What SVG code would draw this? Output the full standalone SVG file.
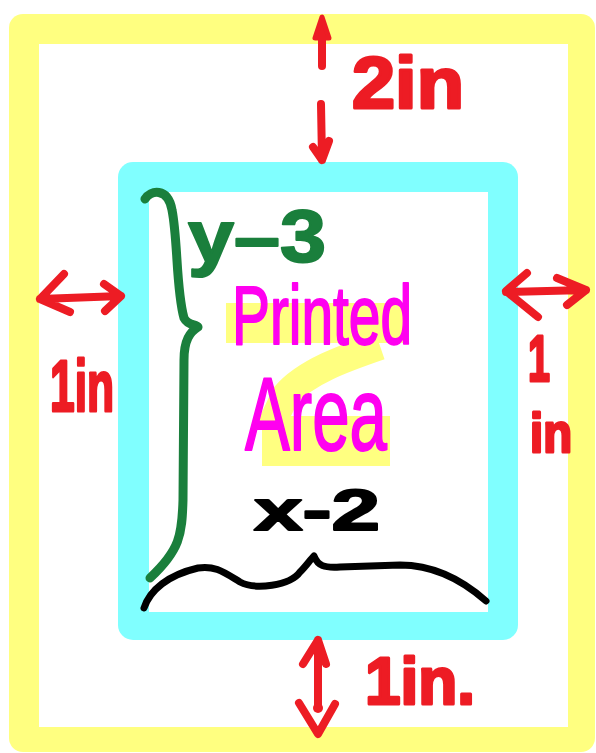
<svg xmlns="http://www.w3.org/2000/svg" width="596" height="753" viewBox="0 0 596 753">
<style>
.red{stroke:#ed1c24;fill:none;stroke-width:8;stroke-linecap:round;stroke-linejoin:round}
.redt{fill:#ed1c24;stroke:#ed1c24;stroke-width:3;stroke-linejoin:round;font-family:"Liberation Sans",Arial,sans-serif;font-weight:bold}
.hl{fill:#ffff80}
.pink{fill:#ff00f0;stroke:#ff00f0;stroke-width:2;stroke-linejoin:round;font-family:"Liberation Sans",Arial,sans-serif}
</style>
<rect width="596" height="753" fill="#ffffff"/>
<g id="page">
<rect x="9" y="14" width="586" height="738" rx="14" fill="#ffff80"/>
<rect x="39" y="44" width="529" height="683" fill="#ffffff"/>
</g>
<g id="printed-frame">
<rect x="118" y="162" width="400" height="478" rx="15" fill="#80ffff"/>
<rect x="149" y="192" width="339" height="420" fill="#ffffff"/>
</g>
<g id="connectors">
<path class="red" d="M322 24 L322 66"/>
<path d="M322 17 L315 38 L329 38 Z" fill="#ed1c24" stroke="#ed1c24" stroke-width="5" stroke-linejoin="round"/>
<path class="red" d="M321 104 L322 160 M313 147 L322 160 L329 141"/>
<path class="red" d="M40 299 L121 296 M64 274 L40 299 L70 312 M104 284 L121 296 L105 311"/>
<path class="red" d="M506 292 L586 290 M527 273 L506 291 L538 317 M557 278 L586 290 L567 305"/>
<path class="red" d="M318 640 L318 708 M303 664 L318 640 L326 664 M299 703 L318 734 L335 704"/>
<circle cx="318" cy="708" r="5" fill="#ed1c24"/>
</g>
<g id="label-2in"><text class="redt" x="352" y="108" font-size="72" textLength="112" lengthAdjust="spacingAndGlyphs">2in</text></g>
<g id="label-left-1in"><text class="redt" x="50" y="411" font-size="72" textLength="64" lengthAdjust="spacingAndGlyphs">1in</text></g>
<g id="label-right-1in">
<text class="redt" x="528" y="381" font-size="64" textLength="22" lengthAdjust="spacingAndGlyphs">1</text>
<text class="redt" x="530" y="452" font-size="56" textLength="42" lengthAdjust="spacingAndGlyphs">in</text>
</g>
<g id="label-bottom-1in"><text class="redt" x="365" y="704" font-size="66" textLength="110" lengthAdjust="spacingAndGlyphs">1in.</text></g>
<g id="height-brace">
<path d="M145 199 C150 190 168 187 172 210 C178 240 176 290 184 318 C188 326 196 324 198 327 C190 332 184 340 184 360 L183 500 C182 535 180 550 150 578" fill="none" stroke="#1a7f3c" stroke-width="9" stroke-linecap="round" stroke-linejoin="round"/>
<text x="188" y="262" font-size="74" textLength="138" lengthAdjust="spacingAndGlyphs" fill="#1a7f3c" stroke="#1a7f3c" stroke-width="2" stroke-linejoin="round" font-family="'Liberation Sans',Arial,sans-serif" font-weight="bold">y–3</text>
</g>
<g id="printed-area">
<rect class="hl" x="226" y="303" width="178" height="40"/>
<path d="M380 346 C345 358 305 372 285 396 L268 432" fill="none" stroke="#ffff80" stroke-width="28" stroke-linecap="butt"/>
<rect class="hl" x="262" y="416" width="128" height="50"/>
<text class="pink" x="232" y="344" font-size="84" textLength="180" lengthAdjust="spacingAndGlyphs">Printed</text>
<text class="pink" x="245" y="450" font-size="104" textLength="142" lengthAdjust="spacingAndGlyphs">Area</text>
</g>
<g id="width-brace">
<text x="254" y="530" font-size="58" textLength="126" lengthAdjust="spacingAndGlyphs" fill="#000" stroke="#000" stroke-width="2" stroke-linejoin="round" font-family="'Liberation Sans',Arial,sans-serif" font-weight="bold">x-2</text>
<path d="M144 608 C150 590 168 575 198 568 C215 565 225 573 240 582 C255 590 290 586 300 572 C306 566 310 560 314 556 C318 566 324 568 340 567 L400 565 C430 565 460 578 486 601" fill="none" stroke="#000" stroke-width="7" stroke-linecap="round" stroke-linejoin="round"/>
</g>
</svg>
